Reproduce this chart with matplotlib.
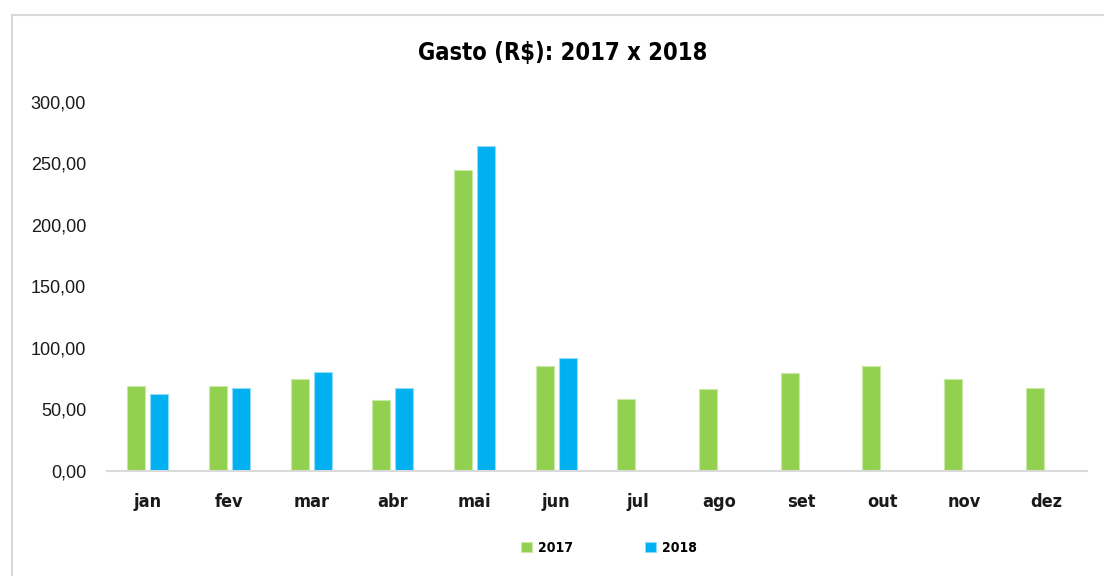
import matplotlib
matplotlib.use("Agg")
import matplotlib.pyplot as plt
import numpy as np
from matplotlib.patches import Rectangle

categories = ["jan", "fev", "mar", "abr", "mai", "jun", "jul", "ago", "set", "out", "nov", "dez"]
values_2017 = [68.9, 68.9, 74.8, 57.5, 244.5, 85.1, 58.5, 66.2, 79.7, 85.1, 74.3, 67.0]
values_2018 = [62.1, 67.0, 80.2, 67.0, 264.2, 91.4]
series_labels = ["2017", "2018"]
yticks = [0, 50, 100, 150, 200, 250, 300]

cond = "DejaVu Sans"

W, H = 1104, 576
fig = plt.figure(figsize=(W / 100, H / 100), dpi=100)
fig.patch.set_facecolor("white")

# outer chart border
fig.add_artist(Rectangle((12 / W, -0.05), 1.2, 1 - 15 / H + 0.05, transform=fig.transFigure,
                         fill=False, edgecolor="#d9d9d9", linewidth=1.5))

left, right = 107 / W, 1087 / W
bottom, top = 1 - 470.7 / H, 1 - 101.7 / H
ax = fig.add_axes([left, bottom, right - left, top - bottom])

x = np.arange(len(categories))
bw = 0.22
off = 0.14
ax.bar(x[:len(values_2017)] - off, values_2017, bw, color="#92D050", edgecolor="#c9eaa6",
       linewidth=0.8, label=series_labels[0])
ax.bar(x[:len(values_2018)] + off, values_2018, bw, color="#00B0F0", edgecolor="#8fdcf7",
       linewidth=0.8, label=series_labels[1])

ax.set_xlim(-0.5, len(categories) - 0.5)
ax.set_ylim(0, 300)
ax.set_yticks(yticks)
ax.set_yticklabels([f"{v:.2f}".replace(".", ",") for v in yticks], fontsize=13,
                   family="Liberation Sans", color="#1a1a1a")
ax.set_xticks(x)
ax.set_xticklabels(categories, fontsize=13, family=cond, fontstretch="condensed",
                   fontweight="bold", color="#1a1a1a")
ax.tick_params(axis="y", length=0, pad=15)
ax.tick_params(axis="x", length=0, pad=16)
for s in ["top", "right", "left"]:
    ax.spines[s].set_visible(False)
ax.spines["bottom"].set_color("#d9d9d9")
ax.spines["bottom"].set_linewidth(1.5)

fig.text(563 / W, 1 - 53 / H, "Gasto (R$): 2017 x 2018", ha="center", va="center",
         fontsize=17, fontweight="bold", family=cond, fontstretch="condensed", color="#000000")

leg = fig.legend(loc="center", bbox_to_anchor=(609 / W, 1 - 548 / H), ncol=2, frameon=False,
                 prop={"family": cond, "size": 10, "stretch": "condensed", "weight": "bold"},
                 handlelength=0.8, handleheight=0.8, handletextpad=0.4, columnspacing=5.2)

fig.savefig("out.png", dpi=100)
